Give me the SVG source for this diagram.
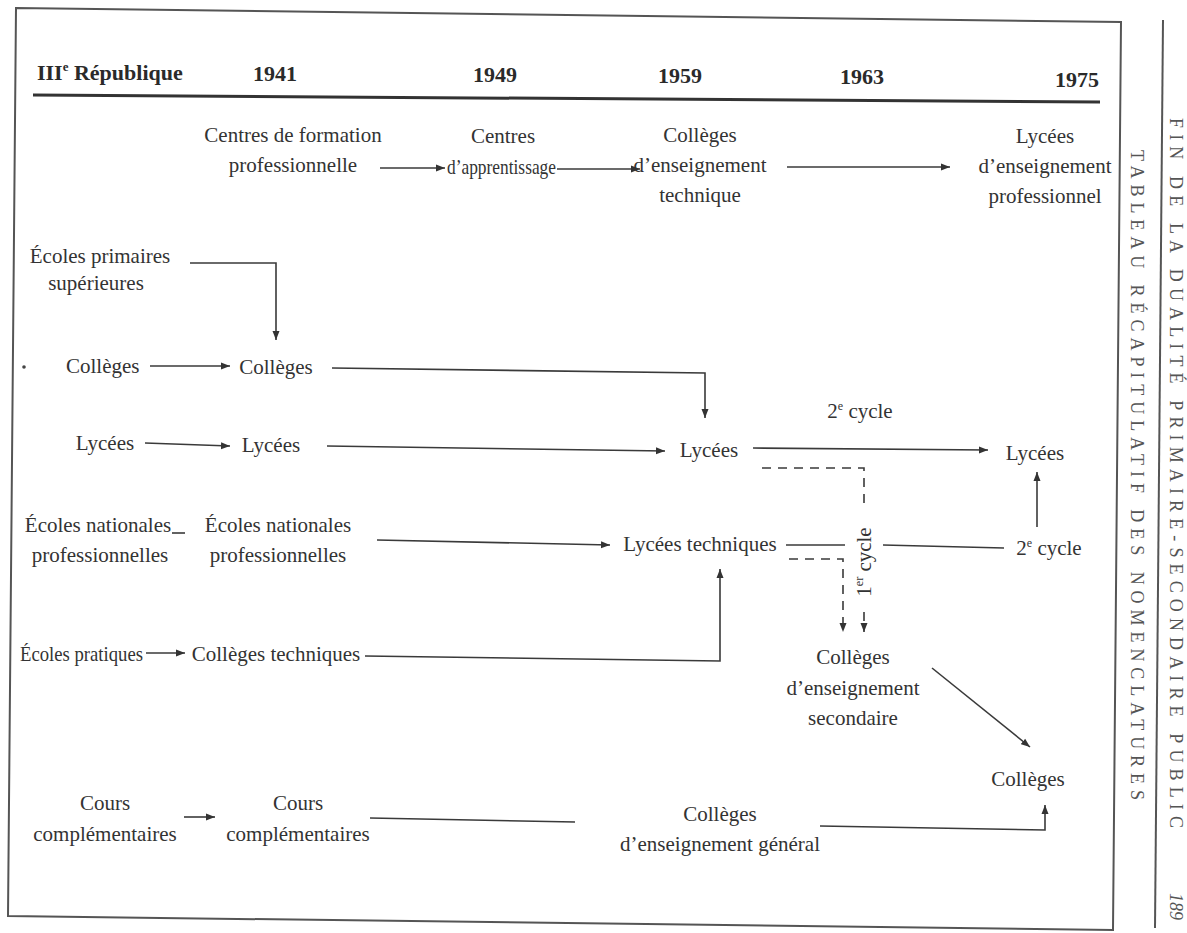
<svg xmlns="http://www.w3.org/2000/svg" width="1187" height="933" viewBox="0 0 1187 933">
<defs>
<marker id="ah" markerWidth="10" markerHeight="8" refX="9" refY="4" orient="auto" markerUnits="userSpaceOnUse">
<path d="M0,0.5 L9,4 L0,7.5 z" fill="#333"/>
</marker>
<style>
text{font-family:"Liberation Serif","DejaVu Serif",serif;fill:#333;}
.n{font-size:21px;}
.c{text-anchor:middle;}
.h{font-size:22px;font-weight:bold;fill:#2a2a2a;}
.side{font-size:18px;fill:#555;}
.ln{fill:none;stroke:#3a3a3a;stroke-width:1.6;}
.ar{marker-end:url(#ah);}
.ds{stroke-dasharray:9,7;}
.frame{fill:none;stroke:#555;stroke-width:2;}
</style>
</defs>
<rect width="1187" height="933" fill="#fff"/>
<g id="frame">
<polygon class="frame" points="16,8 1121,22 1113,930 8,916"/>
<line x1="1163" y1="20" x2="1155" y2="928" stroke="#555" stroke-width="2"/>
<line x1="33" y1="95" x2="1100" y2="102" stroke="#333" stroke-width="3"/>
</g>
<g id="header">
<text class="h" x="37" y="80">III<tspan font-size="13" dy="-9">e</tspan><tspan dy="9"> République</tspan></text>
<text class="h c" x="275" y="81">1941</text>
<text class="h c" x="495" y="82">1949</text>
<text class="h c" x="680" y="83">1959</text>
<text class="h c" x="862" y="84">1963</text>
<text class="h c" x="1077" y="87">1975</text>
</g>
<g id="side">
<text class="side" transform="translate(1131,150) rotate(90)" textLength="650" lengthAdjust="spacing">TABLEAU RÉCAPITULATIF DES NOMENCLATURES</text>
<text class="side" transform="translate(1170,118) rotate(90)" textLength="710" lengthAdjust="spacing">FIN DE LA DUALITÉ PRIMAIRE-SECONDAIRE PUBLIC</text>
<text class="side" transform="translate(1170,893) rotate(90)" font-style="italic">189</text>
</g>
<g id="connectors">
<line class="ln ar" x1="380" y1="168" x2="445" y2="168"/>
<line class="ln ar" x1="557" y1="169" x2="640" y2="169"/>
<line class="ln ar" x1="787" y1="167" x2="950" y2="167"/>
<polyline class="ln ar" points="190,263 276,263 276,340"/>
<line class="ln ar" x1="150" y1="366" x2="230" y2="366"/>
<polyline class="ln ar" points="332,368 705,373 705,418"/>
<line class="ln ar" x1="145" y1="443" x2="230" y2="446"/>
<line class="ln ar" x1="327" y1="446" x2="665" y2="451"/>
<line class="ln ar" x1="753" y1="448" x2="988" y2="450"/>
<polyline class="ln ds" points="762,468 864,468 864,510"/>
<line class="ln ds ar" x1="864" y1="612" x2="864" y2="632"/>
<line class="ln" x1="786" y1="545" x2="845" y2="545"/>
<line class="ln" x1="883" y1="545" x2="1004" y2="548"/>
<polyline class="ln ds ar" points="789,559 843,559 843,632"/>
<line class="ln ar" x1="1037" y1="527" x2="1037" y2="472"/>
<line class="ln" x1="172" y1="533" x2="185" y2="533"/>
<line class="ln ar" x1="377" y1="540" x2="610" y2="545"/>
<line class="ln ar" x1="146" y1="653" x2="185" y2="653"/>
<polyline class="ln ar" points="365,656 720,661 720,569"/>
<line class="ln ar" x1="932" y1="668" x2="1030" y2="747"/>
<line class="ln ar" x1="184" y1="817" x2="215" y2="817"/>
<line class="ln" x1="370" y1="818" x2="575" y2="822"/>
<polyline class="ln ar" points="820,826 1045,830 1045,805"/>
</g>
<g id="n-cfp"><text class="n c" x="293" y="142">Centres de formation</text><text class="n c" x="293" y="172">professionnelle</text></g>
<g id="n-ca"><text class="n c" x="503" y="143">Centres</text><text class="n" x="447" y="174" textLength="109" lengthAdjust="spacingAndGlyphs">d’apprentissage</text></g>
<g id="n-cet"><text class="n c" x="700" y="142">Collèges</text><text class="n c" x="700" y="172">d’enseignement</text><text class="n c" x="700" y="202">technique</text></g>
<g id="n-lep"><text class="n c" x="1045" y="143">Lycées</text><text class="n c" x="1045" y="173">d’enseignement</text><text class="n c" x="1045" y="203">professionnel</text></g>
<g id="n-eps"><text class="n c" x="100" y="263">Écoles primaires</text><text class="n c" x="96" y="290">supérieures</text></g>
<g id="n-col3"><circle cx="24" cy="367" r="1.8" fill="#444"/><text class="n" x="66" y="373">Collèges</text></g>
<g id="n-col41"><text class="n c" x="276" y="374">Collèges</text></g>
<g id="n-lyc3"><text class="n c" x="105" y="450">Lycées</text></g>
<g id="n-lyc41"><text class="n c" x="271" y="452">Lycées</text></g>
<g id="n-lyc59"><text class="n c" x="709" y="457">Lycées</text></g>
<g id="n-2c"><text class="n c" x="860" y="418">2<tspan font-size="12" dy="-8">e</tspan><tspan dy="8"> cycle</tspan></text></g>
<g id="n-lyc75"><text class="n c" x="1035" y="460">Lycées</text></g>
<g id="n-enp3"><text class="n c" x="98" y="532">Écoles nationales</text><text class="n c" x="100" y="562">professionnelles</text></g>
<g id="n-enp41"><text class="n c" x="278" y="532">Écoles nationales</text><text class="n c" x="278" y="562">professionnelles</text></g>
<g id="n-lt"><text class="n c" x="700" y="551">Lycées techniques</text></g>
<g id="n-1c"><text class="n c" transform="translate(871,562) rotate(-90)">1<tspan font-size="12" dy="-8">er</tspan><tspan dy="8"> cycle</tspan></text></g>
<g id="n-2c75"><text class="n c" x="1049" y="555">2<tspan font-size="12" dy="-8">e</tspan><tspan dy="8"> cycle</tspan></text></g>
<g id="n-ep"><text class="n" x="20" y="661" textLength="123" lengthAdjust="spacingAndGlyphs">Écoles pratiques</text></g>
<g id="n-ct"><text class="n c" x="276" y="661">Collèges techniques</text></g>
<g id="n-ces"><text class="n c" x="853" y="664">Collèges</text><text class="n c" x="853" y="695">d’enseignement</text><text class="n c" x="853" y="725">secondaire</text></g>
<g id="n-col75"><text class="n c" x="1028" y="786">Collèges</text></g>
<g id="n-cc3"><text class="n c" x="105" y="810">Cours</text><text class="n c" x="105" y="841">complémentaires</text></g>
<g id="n-cc41"><text class="n c" x="298" y="810">Cours</text><text class="n c" x="298" y="841">complémentaires</text></g>
<g id="n-ceg"><text class="n c" x="720" y="821">Collèges</text><text class="n c" x="720" y="851">d’enseignement général</text></g>
</svg>
